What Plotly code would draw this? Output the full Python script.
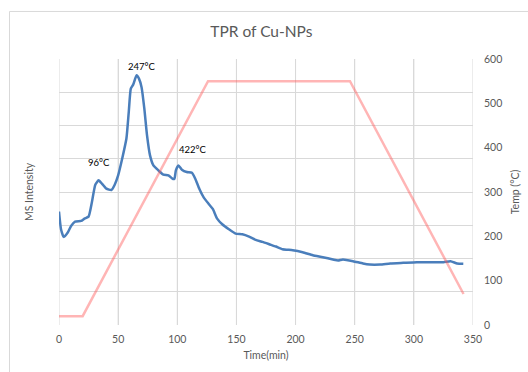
import plotly.graph_objects as go

# MS signal (arbitrary units) versus time
time_ms = [0, 1.7, 4, 7.4, 10.2, 13.6, 18.7, 21.6, 25, 27.8, 30.7, 33.5, 36.3, 40, 44.3,
           47.1, 50, 53.4, 57, 59, 60.7, 62.7, 65.6, 67.6, 69.8, 72.1, 74.4, 76.9, 79.8,
           84, 88.3, 92.5, 96, 97.6, 98.8, 101, 103.9, 108, 112.4, 115.2, 118.6, 122.3,
           126.6, 130, 133.7, 138, 143.6, 149.3, 155, 160.7, 166.3, 172, 177.7, 183.4,
           189, 197.6, 206, 214.6, 223, 231.6, 236, 240, 248.6, 257, 262.8, 271.4, 280,
           291, 302.6, 314, 325, 331, 336.6, 341.8]
ms_intensity = [3.41, 2.88, 2.65, 2.78, 2.98, 3.11, 3.13, 3.2, 3.26, 3.69, 4.22, 4.35, 4.25,
                4.10, 4.06, 4.22, 4.5, 5.0, 5.61, 6.42, 7.11, 7.23, 7.51, 7.41, 7.15, 6.52,
                5.71, 5.11, 4.80, 4.65, 4.52, 4.5, 4.4, 4.4, 4.65, 4.80, 4.67, 4.6, 4.58,
                4.4, 4.10, 3.84, 3.64, 3.49, 3.2, 3.03, 2.88, 2.75, 2.73, 2.66, 2.56, 2.5,
                2.43, 2.36, 2.28, 2.25, 2.19, 2.10, 2.04, 1.97, 1.94, 1.97, 1.92, 1.85,
                1.82, 1.82, 1.85, 1.87, 1.89, 1.89, 1.89, 1.92, 1.85, 1.84]

# Temperature programme
time_temp = [0, 20, 126, 246, 342]
temp_c = [20, 20, 550, 550, 70]

# Peak labels
peak_labels = ["96°C", "247°C", "422°C"]
peak_x = [34, 69.5, 112.5]
peak_y = [4.9, 7.78, 5.28]

font_family = "Lato, Open Sans, sans-serif"
grey = "#595959"
grid = "#d9d9d9"

fig = go.Figure()
fig.add_trace(go.Scatter(
    x=time_temp, y=temp_c, yaxis="y2", mode="lines",
    line=dict(color="rgba(255,90,90,0.45)", width=2.5), hoverinfo="skip",
    showlegend=False))
fig.add_trace(go.Scatter(
    x=time_ms, y=ms_intensity, mode="lines",
    line=dict(color="#4a7ebb", width=2.5, shape="spline", smoothing=0.5),
    showlegend=False))

for txt, px, py in zip(peak_labels, peak_x, peak_y):
    fig.add_annotation(x=px, y=py, text=txt, showarrow=False,
                       font=dict(size=9.5, color="#000000", family=font_family))

# vertical grid lines every 50 min
for gx in range(0, 351, 50):
    fig.add_shape(type="line", xref="x", yref="paper", x0=gx, x1=gx, y0=0, y1=1,
                  line=dict(color=grid, width=1), layer="below")

fig.add_shape(type="rect", xref="paper", yref="paper",
              x0=-0.1195, x1=1.14, y0=-0.2, y1=1.1787,
              line=dict(color=grid, width=1), layer="below")

fig.update_layout(
    width=528, height=372,
    margin=dict(l=59, r=55, t=59, b=47, autoexpand=False),
    paper_bgcolor="white", plot_bgcolor="white",
    font=dict(family=font_family, color=grey, size=10),
    title=dict(text="TPR of Cu-NPs", x=0.495, xanchor="center", y=0.915, yanchor="middle",
               font=dict(size=15.5, color=grey, family=font_family)),
    xaxis=dict(range=[0, 350], tickmode="linear", tick0=0, dtick=50, showgrid=True,
               gridcolor=grid, gridwidth=1, zeroline=False, showline=False, ticks="",
               ticklabelstandoff=6, automargin=False,
               tickfont=dict(size=10.5, color=grey),
               title=dict(text="Time(min)", font=dict(size=10.5, color=grey), standoff=8)),
    yaxis=dict(range=[0, 8], dtick=1, showticklabels=False, showgrid=True,
               gridcolor=grid, gridwidth=1, zeroline=False, showline=False,
               ticks="", automargin=False,
               title=dict(text="MS Intensity", font=dict(size=10.5, color=grey), standoff=22)),
    yaxis2=dict(range=[0, 600], dtick=100, overlaying="y", side="right", showgrid=False,
                zeroline=False, showline=False, ticks="", ticklabelstandoff=10,
                automargin=False,
                tickfont=dict(size=10.5, color=grey),
                title=dict(text="Temp (°C)", font=dict(size=10.5, color=grey), standoff=10)),
)

fig.write_html("out.html")
